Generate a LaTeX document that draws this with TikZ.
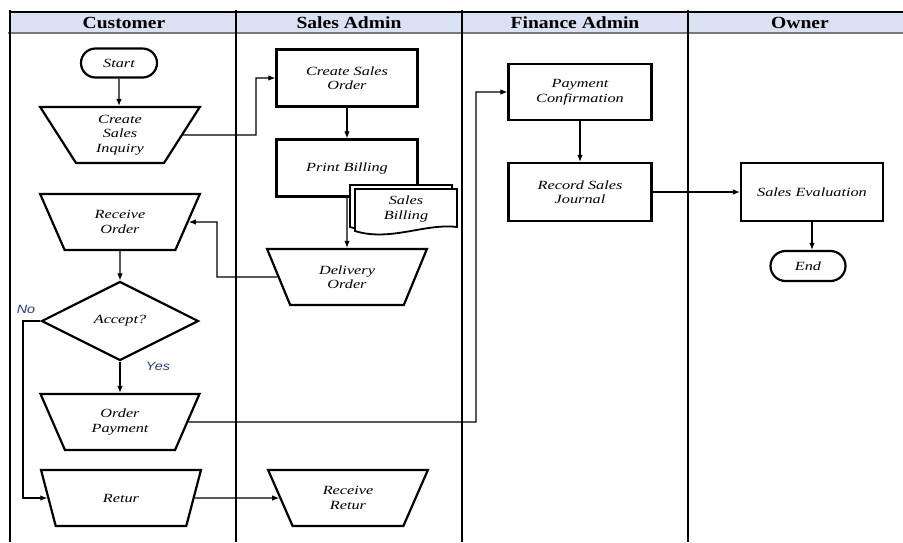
\documentclass[tikz,border=0pt]{standalone}
\usepackage{fontspec}
\setmainfont{Liberation Serif}
\newfontfamily\nodefont{Liberation Serif}[FakeStretch=1.3]
\newfontfamily\headfont{Liberation Serif}[FakeStretch=1.15]
\newfontfamily\yesnofont{Liberation Sans}[FakeStretch=1.2]
\usetikzlibrary{shapes.geometric}
\usetikzlibrary{shapes.misc}
\usetikzlibrary{arrows.meta}
\definecolor{lanehead}{RGB}{218,225,243}
\definecolor{headline}{RGB}{120,120,120}
\definecolor{yesno}{RGB}{38,60,128}

\begin{document}
\begin{tikzpicture}[x = 1pt, y = -1pt]
\tikzstyle{NodeText}=[inner sep = 0pt, align = center,
                      font = \nodefont\itshape\fontsize{12.5}{14.5}\selectfont]
\tikzstyle{Proc}=[NodeText, shape = rectangle, draw, line width = 2.2pt,
                  minimum width = 141pt, minimum height = 57pt]
\tikzstyle{Manual}=[NodeText, shape = trapezium, draw, line width = 2.2pt,
                    trapezium angle = 64, shape border rotate = 180,
                    trapezium stretches = true,
                    minimum width = 160pt, minimum height = 56pt]
\tikzstyle{Decide}=[NodeText, shape = diamond, draw, line width = 2.2pt,
                    aspect = 2, minimum width = 157pt, minimum height = 79pt]
\tikzstyle{Term}=[NodeText, shape = rounded rectangle, draw, line width = 2.2pt,
                  minimum width = 76pt, minimum height = 29pt]
\tikzstyle{Flow}=[line width = 1.1pt, -{Latex[length = 7pt, width = 5.5pt]}]
\tikzstyle{Lane}=[line width = 2.4pt]
\tikzstyle{Head}=[font = \headfont\bfseries\fontsize{17}{18}\selectfont]
\tikzstyle{YesNo}=[font = \yesnofont\itshape\fontsize{12}{14}\selectfont, text = yesno]
\useasboundingbox (0,0) rectangle (903,542);
\fill[lanehead] (10,12) rectangle (903,33);
\draw[line width = 1.5pt, headline] (8,33) -- (903,33);
\draw[line width = 2pt] (10,12) -- (903,12);
\draw[Lane] (10,10) -- (10,542);
\draw[Lane] (236,10) -- (236,542);
\draw[Lane] (462,10) -- (462,542);
\draw[Lane] (688,10) -- (688,542);
\node[Head] (hcust) at (124,23) {Customer};
\node[Head] (hsales) at (349,23) {Sales Admin};
\node[Head] (hfin) at (575,23) {Finance Admin};
\node[Head] (hown) at (800,23) {Owner};
\node[Term] (start) at (119,63) {Start};
\node[Manual] (inq) at (120,135) {Create\\Sales\\Inquiry};
\node[Manual] (rord) at (120,222) {Receive\\Order};
\node[Decide] (acc) at (120,321) {Accept?};
\node[Manual] (opay) at (120,422) {Order\\Payment};
\node[Manual] (ret) at (121,498) {Retur};
\node[Proc] (cso) at (347,78) {Create Sales\\Order};
\node[Proc] (pb) at (347,168) {Print Billing};
\node[Manual] (dord) at (347,277) {Delivery\\Order};
\node[Manual] (rret) at (348,498) {Receive\\Retur};
\node[Proc, minimum width = 143pt, minimum height = 56pt] (pconf) at (580,92) {Payment\\Confirmation};
\node[Proc, minimum width = 143pt, minimum height = 58pt] (rsj) at (580,192) {Record Sales\\Journal};
\node[Proc, minimum width = 142pt, minimum height = 58pt] (seval) at (812,192) {Sales Evaluation};
\node[Term, minimum width = 75pt, minimum height = 30pt] (end) at (808,266) {End};
\coordinate (kinq) at (256,0);
\coordinate (kdord) at (217,0);
\coordinate (kno) at (23,0);
\coordinate (kpay) at (476,0);
\draw[Flow] (start) -- (start |- inq.north);
\draw[Flow] (inq) -- (inq -| kinq) |- (cso);
\draw[Flow] (cso) -- (pb);
\draw[Flow] (pb.south -| dord) -- (dord);
\draw[Flow] (dord) -- (dord -| kdord) |- (rord);
\draw[Flow] (rord) -- (acc);
\draw[Flow] (acc) -- (opay);
\node[YesNo] (yes) at (158,366) {Yes};
\draw[Flow] (acc) -- (acc -| kno) |- (ret);
\node[YesNo] (no) at (26,309) {No};
\draw[Flow] (opay) -- (opay -| kpay) |- (pconf);
\draw[Flow] (ret) -- (rret);
\draw[Flow] (pconf) -- (rsj);
\draw[Flow] (rsj) -- (seval);
\draw[Flow] (seval) -- (seval |- end.north);
\draw[line width = 1.8pt, fill = white] (350,185) -- (452,185) -- (452,223)
  .. controls (420,219) and (385,238) .. (350,227) -- cycle;
\draw[line width = 1.8pt, fill = white] (355,189) -- (457,189) -- (457,227)
  .. controls (425,223) and (390,242) .. (355,231) -- cycle;
\node[NodeText] (sbill) at (406,209) {Sales\\Billing};
\end{tikzpicture}
\end{document}
